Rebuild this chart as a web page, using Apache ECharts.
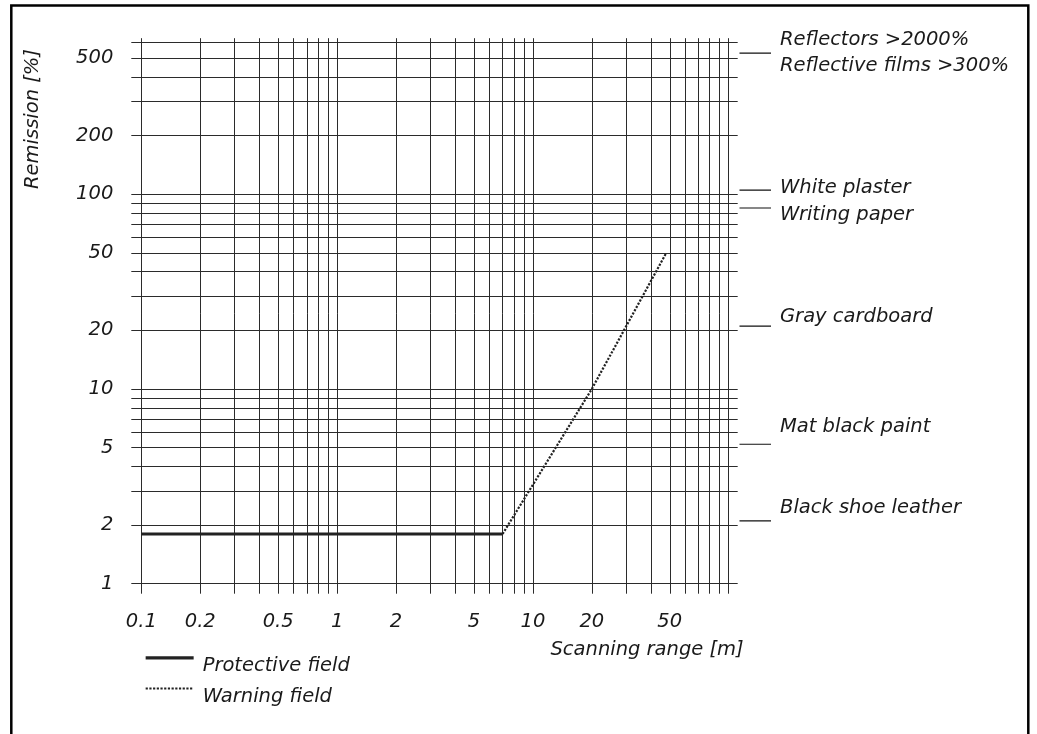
<!DOCTYPE html>
<html>
<head>
<meta charset="utf-8">
<script src="https://cdn.jsdelivr.net/npm/echarts@6/dist/echarts.min.js"></script>
<style>
  html, body { margin: 0; padding: 0; background: #fff; }
  #chart { width: 1037px; height: 734px; }
</style>
</head>
<body>
<div id="chart"></div>
<script>
// grid lines (log scales)
const xGridValues = [0.1, 0.2, 0.3, 0.4, 0.5, 0.6, 0.7, 0.8, 0.9,
  1, 2, 3, 4, 5, 6, 7, 8, 9, 10, 20, 30, 40, 50, 60, 70, 80, 90, 100]
const yGridValues = [1, 2, 3, 4, 5, 6, 7, 8, 9, 10, 20, 30, 40, 50, 60, 70, 80, 90,
  100, 200, 300, 400, 500, 600]
const xLabelValues = [0.1, 0.2, 0.5, 1, 2, 5, 10, 20, 50]
const yLabelValues = [1, 2, 5, 10, 20, 50, 100, 200, 500]

// fields
const protectiveX = [0.1, 7]
const protectiveY = [1.8, 1.8]
const warningX = [7, 20, 48]
const warningY = [1.8, 10, 50]

// materials on the right side
const materialNames = ['Reflectors >2000%\nReflective films >300%', 'White plaster', 'Writing paper',
  'Gray cardboard', 'Mat black paint', 'Black shoe leather']
const materialLevels = [530, 105, 85, 21, 5.2, 2.1]

const FONT = 'DejaVu Sans'
const TXT = '#1a1a1a'
const GRID = '#2b2b2b'
const labelShift = [0, -2, 7, -9, -17, -13] // text vs. marker line

const chart = echarts.init(document.getElementById('chart'))

const plotBox = { left: 141.3, top: 42.7, width: 587.4, height: 541 }

const yLog = {
  type: 'log', logBase: 10, min: 1, max: 600
}
const xLog = {
  type: 'log', logBase: 10, min: 0.1, max: 100
}
const italic = { color: TXT, fontFamily: FONT, fontStyle: 'italic', fontSize: 19.5 }

const materialSeries = materialNames.map((name, i) => ({
  name: name,
  type: 'line',
  xAxisIndex: 2,
  yAxisIndex: 2,
  symbol: 'none',
  silent: true,
  lineStyle: { color: '#111', width: 1.2 },
  data: [[0, materialLevels[i]], [1, materialLevels[i]]],
  endLabel: Object.assign({
    show: true,
    formatter: name,
    distance: 9,
    offset: [0, labelShift[i]],
    lineHeight: 26
  }, italic)
}))

chart.setOption({
  animation: false,
  backgroundColor: '#fff',
  textStyle: { fontFamily: FONT },
  graphic: [{
    type: 'rect',
    shape: { x: 11.3, y: 5.5, width: 1017, height: 800 },
    style: { fill: 'none', stroke: '#000', lineWidth: 2.5 },
    silent: true
  }, {
    type: 'text',
    x: 33,
    y: 119,
    rotation: Math.PI / 2,
    silent: true,
    style: {
      text: 'Remission [%]',
      align: 'center',
      verticalAlign: 'middle',
      fill: TXT,
      font: 'italic 19.5px "DejaVu Sans"'
    }
  }],
  grid: [
    Object.assign({ outerBoundsMode: 'none', containLabel: false }, plotBox),
    { outerBoundsMode: 'none', containLabel: false, left: 739.5, top: 42.7, width: 31.5, height: 541 }
  ],
  legend: {
    data: [
      { name: 'Protective field', lineStyle: { width: 3.3 } },
      { name: 'Warning field' }
    ],
    orient: 'vertical',
    left: 144,
    top: 653,
    padding: 0,
    itemWidth: 48,
    itemHeight: 12,
    itemGap: 8,
    selectedMode: false,
    itemStyle: { color: 'transparent', borderWidth: 0, borderColor: 'transparent' },
    formatter: name => '{t|' + name + '}',
    textStyle: {
      rich: {
        t: Object.assign({ padding: [16, 0, 0, 4] }, italic)
      }
    }
  },
  xAxis: [
    Object.assign({}, xLog, {
      gridIndex: 0,
      position: 'bottom',
      name: 'Scanning range [m]',
      nameLocation: 'end',
      nameGap: 15,
      nameMoveOverlap: false,
      nameTextStyle: Object.assign({
        align: 'right', verticalAlign: 'top', padding: [56, 0, 0, 0]
      }, italic),
      axisLine: { show: true, lineStyle: { color: GRID, width: 1 } },
      axisTick: { show: true, inside: false, length: 10, customValues: xGridValues,
        lineStyle: { color: GRID, width: 1 } },
      splitLine: { show: true, lineStyle: { color: GRID, width: 1 } },
      minorTick: { show: false },
      minorSplitLine: { show: false },
      axisLabel: Object.assign({
        show: true, customValues: xLabelValues, margin: 28,
        hideOverlap: false,
        formatter: v => String(v)
      }, italic)
    }),
    Object.assign({}, xLog, {
      gridIndex: 0,
      position: 'top',
      axisLine: { show: true, lineStyle: { color: GRID, width: 1 } },
      axisTick: { show: true, inside: false, length: 4.5, customValues: xGridValues,
        lineStyle: { color: GRID, width: 1 } },
      splitLine: { show: false },
      axisLabel: { show: false }
    }),
    {
      type: 'value', gridIndex: 1, min: 0, max: 1, show: false
    }
  ],
  yAxis: [
    Object.assign({}, yLog, {
      gridIndex: 0,
      position: 'left',
      axisLine: { show: true, lineStyle: { color: GRID, width: 1 } },
      axisTick: { show: true, inside: false, length: 10, customValues: yGridValues,
        lineStyle: { color: GRID, width: 1 } },
      splitLine: { show: true, lineStyle: { color: GRID, width: 1 } },
      minorTick: { show: false },
      minorSplitLine: { show: false },
      axisLabel: Object.assign({
        show: true, customValues: yLabelValues, margin: 28,
        hideOverlap: false,
        formatter: v => String(v)
      }, italic)
    }),
    Object.assign({}, yLog, {
      gridIndex: 0,
      position: 'right',
      axisLine: { show: true, lineStyle: { color: GRID, width: 1 } },
      axisTick: { show: true, inside: false, length: 9, customValues: yGridValues,
        lineStyle: { color: GRID, width: 1 } },
      splitLine: { show: false },
      axisLabel: { show: false }
    }),
    Object.assign({}, yLog, { gridIndex: 1, show: false })
  ],
  series: [
    {
      name: 'Protective field',
      type: 'line',
      xAxisIndex: 0,
      yAxisIndex: 0,
      symbol: 'none',
      lineStyle: { color: '#222', width: 3 },
      itemStyle: { color: 'transparent' },
      data: protectiveX.map((x, i) => [x, protectiveY[i]])
    },
    {
      name: 'Warning field',
      type: 'line',
      xAxisIndex: 0,
      yAxisIndex: 0,
      symbol: 'none',
      lineStyle: { color: '#222', width: 2.2, type: [2.2, 1.5] },
      itemStyle: { color: 'transparent' },
      data: warningX.map((x, i) => [x, warningY[i]])
    }
  ].concat(materialSeries)
})
</script>
</body>
</html>
